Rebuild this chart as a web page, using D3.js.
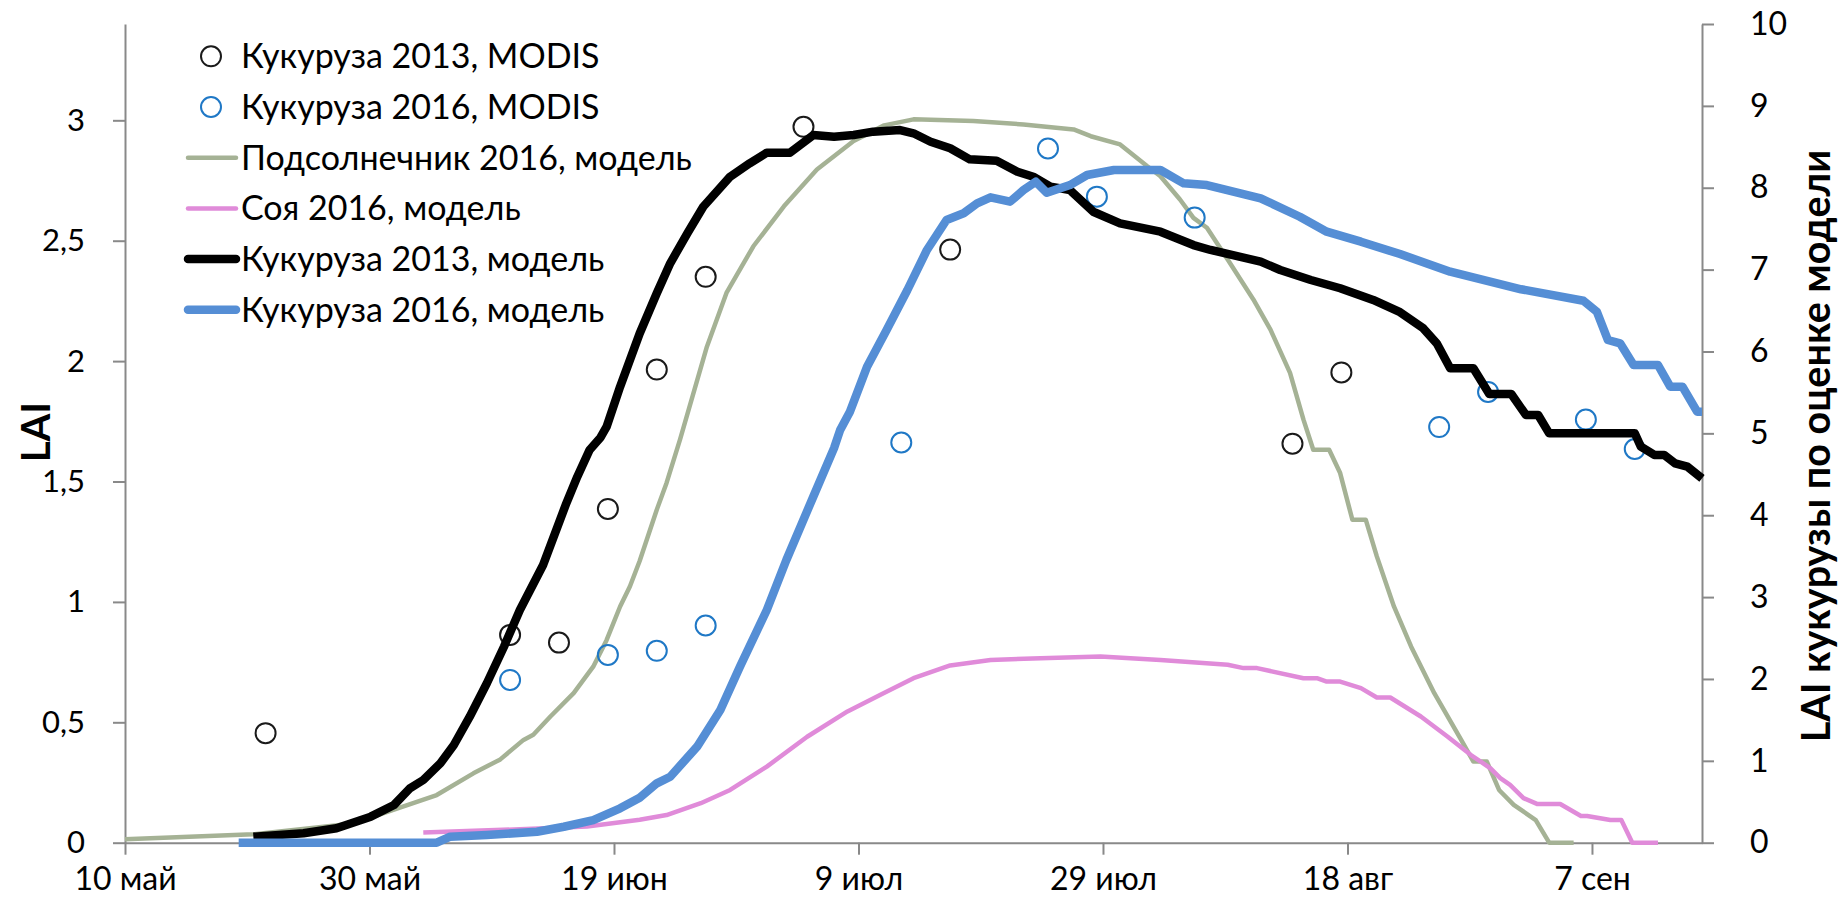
<!DOCTYPE html>
<html>
<head>
<meta charset="utf-8">
<script src="https://cdn.jsdelivr.net/npm/d3@7"></script>
<style>
  html, body { margin: 0; padding: 0; background: #fff; }
  svg { display: block; }
  text { font-family: Lato, "Open Sans", sans-serif; fill: #000; }
</style>
</head>
<body>
<svg id="chart" width="1838" height="909"></svg>
<script>
// Day of year (non-leap year): 130 = 10 May, 259 = 16 Sep
const xTickDays = [130, 150, 170, 190, 210, 230, 250];
const xTickLabels = ["10 май", "30 май", "19 июн", "9 июл", "29 июл", "18 авг", "7 сен"];
const leftTicks = [0, 0.5, 1, 1.5, 2, 2.5, 3];
const rightTicks = [0, 1, 2, 3, 4, 5, 6, 7, 8, 9, 10];

// MODIS LAI observations [day, LAI]
const modisCorn2013 = [[141.5,0.455],[161.5,0.863],[165.5,0.831],[169.5,1.386],[173.5,1.965],
  [177.5,2.35],[185.5,2.973],[197.5,2.463],[225.5,1.657],[229.5,1.953]];
const modisCorn2016 = [[161.5,0.676],[169.5,0.78],[173.5,0.797],[177.5,0.902],[193.5,1.662],
  [205.5,2.883],[209.5,2.683],[217.5,2.596],[237.5,1.726],[241.5,1.872],[249.5,1.757],[253.5,1.635]];

// Model LAI, left axis
const sunflower2016 = [[130,0.014],[140.5,0.035],[148.7,0.08],[151.1,0.122],[155.5,0.198],
  [158.5,0.288],[160.7,0.346],[162.6,0.427],[163.4,0.448],[164.8,0.524],[166.7,0.621],[168.3,0.731],
  [169.4,0.842],[170.5,0.981],[171.3,1.064],[172.1,1.17],[173.5,1.383],[174.3,1.494],[175.4,1.674],
  [177.6,2.06],[179.2,2.283],[181.4,2.477],[183.9,2.643],[186.6,2.796],[189.6,2.914],[192.1,2.979],
  [194.5,3.004],[199.4,2.997],[203.5,2.983],[207.6,2.962],[209.0,2.934],[211.4,2.9],[213.6,2.81],
  [214.7,2.768],[216.3,2.671],[217.4,2.595],[218.5,2.554],[220.2,2.422],[222.3,2.256],[223.7,2.131],
  [225.3,1.951],[226.4,1.757],[227.2,1.632],[228.5,1.632],[229.4,1.535],[230.4,1.341],[231.5,1.341],
  [232.4,1.189],[233.8,0.981],[235.2,0.815],[237.1,0.621],[239.3,0.427],[240.3,0.337],[241.4,0.337],
  [242.4,0.219],[243.6,0.157],[245.4,0.094],[246.5,0],[248.5,0]];
const soy2016 = [[154.4,0.042],[162.3,0.056],[167.8,0.067],[172.1,0.095],[174.3,0.115],[177.1,0.164],
  [179.5,0.219],[182.5,0.316],[185.8,0.44],[189.1,0.545],[191.8,0.614],[194.5,0.683],[197.5,0.736],
  [200.8,0.759],[204.9,0.766],[209.8,0.773],[214.7,0.759],[220.2,0.739],[221.5,0.725],[222.6,0.725],
  [226.4,0.683],[227.5,0.683],[228.3,0.669],[229.4,0.669],[231.1,0.642],[232.4,0.603],[233.5,0.603],
  [236,0.524],[238.2,0.44],[240.1,0.364],[241.7,0.309],[242.5,0.268],[243.3,0.24],[244.4,0.185],
  [245.5,0.161],[247.4,0.161],[249.1,0.111],[249.6,0.111],[251.5,0.094],[252.4,0.094],[253.3,0],[255.4,0]];

// Model LAI for corn, right axis
const corn2013 = [[140.5,0.073],[144.6,0.115],[147.3,0.176],[150.1,0.318],[152,0.46],[153.3,0.664],
  [154.4,0.766],[155.8,0.97],[156.9,1.193],[158.2,1.539],[159.6,1.947],[161,2.394],[162.3,2.842],
  [164.2,3.392],[166.1,4.146],[167,4.47],[168,4.797],[168.9,4.95],[169.4,5.081],[170.5,5.57],
  [172.1,6.22],[173.5,6.711],[174.6,7.077],[176,7.443],[177.3,7.768],[179.5,8.135],[181.1,8.299],
  [182.5,8.428],[184.4,8.428],[186.3,8.644],[188,8.624],[189.6,8.644],[191.2,8.685],[193.4,8.705],
  [194.5,8.665],[195.9,8.562],[197.5,8.482],[199.1,8.347],[201.3,8.33],[203,8.196],[204.3,8.135],
  [205.7,8.013],[207.3,7.972],[209.2,7.707],[211.4,7.565],[214.7,7.463],[217.4,7.3],[218.8,7.24],
  [222.9,7.097],[224.5,6.995],[227,6.873],[229.4,6.772],[232.1,6.629],[234.3,6.48],[236.2,6.283],
  [237.3,6.1],[238.4,5.795],[240.3,5.795],[241.6,5.48],[243.4,5.48],[244.6,5.224],[245.6,5.224],
  [246.5,5],[253.5,5],[254,4.837],[255.1,4.736],[255.9,4.736],[256.8,4.634],[257.8,4.593],[259,4.451]];
const corn2016 = [[139.3,0],[155.5,0],[156.6,0.073],[159.6,0.094],[163.7,0.134],[165.9,0.195],
  [168.3,0.277],[170.5,0.42],[172.1,0.55],[173.5,0.725],[174.6,0.806],[176.8,1.173],[178.7,1.621],
  [180.3,2.15],[182.5,2.842],[184.1,3.453],[186.3,4.226],[188,4.82],[188.5,5.041],[189.3,5.265],
  [190.7,5.814],[192.3,6.262],[194,6.751],[195.6,7.24],[197.2,7.606],[198.6,7.688],[199.7,7.81],
  [200.8,7.883],[202.4,7.83],[203.5,7.972],[204.5,8.074],[205.4,7.939],[207.3,8.033],[208.7,8.156],
  [210.9,8.217],[214.7,8.217],[216.6,8.054],[218.5,8.033],[222.9,7.871],[226.1,7.646],[228.3,7.463],
  [231.1,7.341],[234.3,7.19],[238.4,6.975],[244.2,6.76],[249.3,6.62],[250.4,6.486],[251.3,6.14],
  [252.3,6.1],[253.4,5.835],[255.4,5.835],[256.4,5.57],[257.4,5.57],[258.6,5.265],[259,5.265]];

const legendNames = ["Кукуруза 2013, MODIS", "Кукуруза 2016, MODIS", "Подсолнечник 2016, модель",
  "Соя 2016, модель", "Кукуруза 2013, модель", "Кукуруза 2016, модель"];

const svg = d3.select("#chart");
const axisColor = "#898989";

const x = d3.scaleLinear().domain([130, 259]).range([125, 1702]);
const yL = d3.scaleLinear().domain([0, 3.4]).range([842.7, 24]);
const yR = d3.scaleLinear().domain([0, 10]).range([842.7, 24]);

function styleAxis(g, size) {
  g.select(".domain").attr("stroke", axisColor).attr("stroke-width", 2);
  g.selectAll(".tick line").attr("stroke", axisColor).attr("stroke-width", 2);
  g.selectAll(".tick text").attr("font-size", size).attr("fill", "#000")
    .attr("font-family", 'Lato, "Open Sans", sans-serif');
}

// Axes
svg.append("g").attr("transform", "translate(0,842.7)")
  .call(d3.axisBottom(x).tickValues(xTickDays).tickFormat((d, i) => xTickLabels[i])
    .tickSizeInner(12).tickSizeOuter(0).tickPadding(13))
  .call(g => styleAxis(g, 32));

svg.append("g").attr("transform", "translate(125,0)")
  .call(d3.axisLeft(yL).tickValues(leftTicks).tickFormat(d => String(d).replace(".", ","))
    .tickSizeInner(12).tickSizeOuter(0).tickPadding(28))
  .call(g => styleAxis(g, 31));

svg.append("g").attr("transform", "translate(1702,0)")
  .call(d3.axisRight(yR).tickValues(rightTicks).tickFormat(d3.format("d"))
    .tickSizeInner(12).tickSizeOuter(0).tickPadding(36))
  .call(g => styleAxis(g, 32));

// Axis titles
svg.append("text").attr("transform", "translate(50,432) rotate(-90)")
  .attr("text-anchor", "middle").attr("font-weight", "bold").attr("font-size", 40).text("LAI");
svg.append("text").attr("transform", "translate(1830,446) rotate(-90)")
  .attr("text-anchor", "middle").attr("font-weight", "bold").attr("font-size", 39.5)
  .text("LAI кукурузы по оценке модели");

// Series
const lineL = d3.line().x(d => x(d[0])).y(d => yL(d[1]));
const lineR = d3.line().x(d => x(d[0])).y(d => yR(d[1]));

const plot = svg.append("g");
const styles = {
  sunflower: { color: "#a5b295", width: 4.5 },
  soy: { color: "#e08bd9", width: 4.5 },
  c2013: { color: "#000000", width: 8.5 },
  c2016: { color: "#558ed5", width: 8.5 },
  m2013: "#1a1a1a",
  m2016: "#1f78c6"
};

plot.append("path").datum(sunflower2016).attr("d", lineL).attr("fill", "none")
  .attr("stroke", styles.sunflower.color).attr("stroke-width", styles.sunflower.width)
  .attr("stroke-linejoin", "round");
plot.append("path").datum(soy2016).attr("d", lineL).attr("fill", "none")
  .attr("stroke", styles.soy.color).attr("stroke-width", styles.soy.width)
  .attr("stroke-linejoin", "round");

plot.selectAll(".m13").data(modisCorn2013).join("circle").attr("class", "m13")
  .attr("cx", d => x(d[0])).attr("cy", d => yL(d[1])).attr("r", 10)
  .attr("fill", "none").attr("stroke", styles.m2013).attr("stroke-width", 2);
plot.selectAll(".m16").data(modisCorn2016).join("circle").attr("class", "m16")
  .attr("cx", d => x(d[0])).attr("cy", d => yL(d[1])).attr("r", 10)
  .attr("fill", "none").attr("stroke", styles.m2016).attr("stroke-width", 2);

plot.append("path").datum(corn2013).attr("d", lineR).attr("fill", "none")
  .attr("stroke", styles.c2013.color).attr("stroke-width", styles.c2013.width)
  .attr("stroke-linejoin", "round");
plot.append("path").datum(corn2016).attr("d", lineR).attr("fill", "none")
  .attr("stroke", styles.c2016.color).attr("stroke-width", styles.c2016.width)
  .attr("stroke-linejoin", "round");

// Legend
const legend = svg.append("g");
const rowBase = 68.3, rowStep = 50.7;
const legendKinds = [
  { type: "circle", color: styles.m2013 },
  { type: "circle", color: styles.m2016 },
  { type: "line", color: styles.sunflower.color, width: 4.5 },
  { type: "line", color: styles.soy.color, width: 4.5 },
  { type: "line", color: styles.c2013.color, width: 8.5 },
  { type: "line", color: styles.c2016.color, width: 8.5 }
];
legendNames.forEach((name, i) => {
  const base = rowBase + i * rowStep;
  const cy = base - 12;
  const k = legendKinds[i];
  if (k.type === "circle") {
    legend.append("circle").attr("cx", 211).attr("cy", cy).attr("r", 10)
      .attr("fill", "none").attr("stroke", k.color).attr("stroke-width", 2);
  } else {
    legend.append("line").attr("x1", 188).attr("x2", 236).attr("y1", cy).attr("y2", cy)
      .attr("stroke", k.color).attr("stroke-width", k.width).attr("stroke-linecap", "round");
  }
  legend.append("text").attr("x", 241).attr("y", base).attr("font-size", 34).text(name);
});
</script>
</body>
</html>
